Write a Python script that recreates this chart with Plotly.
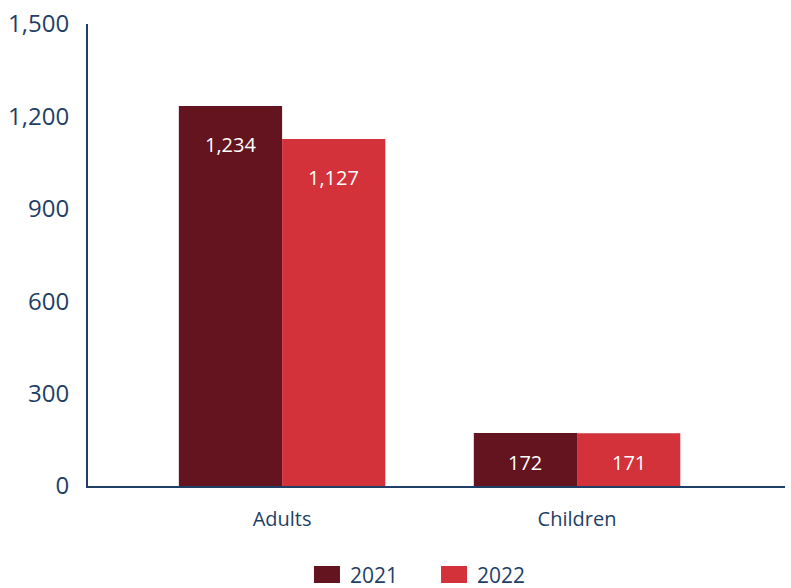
import plotly.graph_objects as go

categories = ["Adults", "Children"]
years = ["2021", "2022"]
values_2021 = [1234, 172]
values_2022 = [1127, 171]
y_ticks = [0, 300, 600, 900, 1200, 1500]

colors = {"2021": "#64141E", "2022": "#D4323A"}
axis_color = "#1F3F66"
font_family = "Open Sans"
bargap = 0.3

fig = go.Figure()
series = {"2021": values_2021, "2022": values_2022}
for yr in years:
    fig.add_trace(go.Bar(
        name=yr, x=categories, y=series[yr],
        marker=dict(color=colors[yr], line=dict(width=0)),
        showlegend=False,
    ))

bar_w = (1 - bargap) / 2
for j, yr in enumerate(years):
    off = (j - 0.5) * bar_w
    for i, v in enumerate(series[yr]):
        fig.add_annotation(
            x=i + off, y=max(v - 125, v * 0.45), xref="x", yref="y",
            text=f"{v:,}", showarrow=False,
            font=dict(family=font_family, size=20, color="white"),
            xanchor="center", yanchor="middle",
        )

# legend (swatch + label), placed in paper coordinates below the plot
legend_x = [0.3242, 0.5065]
sw_w = 0.0373
for yr, lx in zip(years, legend_x):
    fig.add_shape(type="rect", xref="paper", yref="paper",
                  x0=lx, x1=lx + sw_w, y0=-0.2100, y1=-0.1732,
                  fillcolor=colors[yr], line=dict(width=0))
    fig.add_annotation(x=lx + sw_w + 0.0115, y=-0.1935, xref="paper", yref="paper",
                       text=yr, showarrow=False, xanchor="left", yanchor="middle",
                       font=dict(family=font_family, size=21, color=axis_color))

fig.update_layout(
    width=791, height=588,
    margin=dict(l=88, r=6, t=24, b=102),
    paper_bgcolor="white", plot_bgcolor="white",
    barmode="group", bargap=bargap, bargroupgap=0,
    showlegend=False,
    xaxis=dict(
        type="category", range=[-0.658, 1.705],
        showline=True, linecolor=axis_color, linewidth=2,
        showgrid=False, ticks="", zeroline=False,
        tickfont=dict(family=font_family, size=20, color=axis_color),
        ticklabelstandoff=14,
    ),
    yaxis=dict(
        range=[0, 1500], tickvals=y_ticks,
        ticktext=[f"{t:,}" for t in y_ticks],
        showline=True, linecolor=axis_color, linewidth=2,
        showgrid=False, ticks="", zeroline=False,
        tickfont=dict(family=font_family, size=24, color=axis_color),
        ticklabelstandoff=12,
    ),
)

fig.write_html("out.html")
